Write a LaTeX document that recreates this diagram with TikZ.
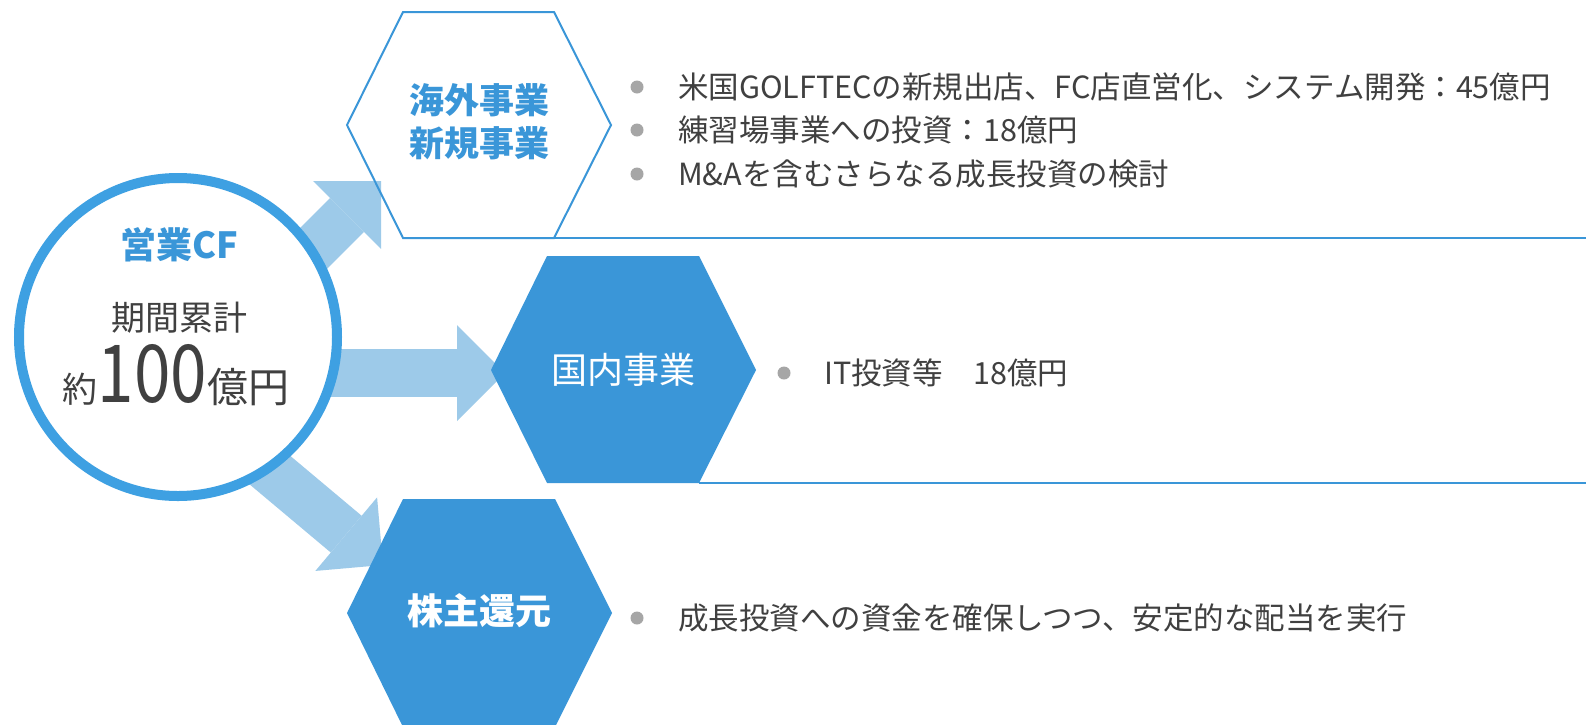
\documentclass[tikz,border=0pt]{standalone}
\usepackage{fontspec}
\usepackage{graphicx}
\setmainfont{Noto Sans CJK JP}
\usetikzlibrary{arrows.meta}
\definecolor{hexblue}{HTML}{3A96D8}
\definecolor{ringblue}{HTML}{3EA0E2}
\definecolor{arrowblue}{HTML}{9DCAE9}
\definecolor{txtgray}{HTML}{404040}
\definecolor{bulgray}{HTML}{A6A6A6}
\tikzset{
  flow/.style={draw=arrowblue, line width=48pt,
    -{Triangle[length=48pt,width=96pt,line width=0pt,fill=arrowblue]}},
  hexline/.style={draw=hexblue, line width=2pt, line join=miter},
  hexfill/.style={fill=hexblue},
  rule/.style={draw=hexblue, line width=2.5pt},
  bulletdot/.style={circle, fill=bulgray, inner sep=0pt, minimum size=13pt},
  itemtext/.style={anchor=west, text=txtgray, inner sep=0pt,
    font=\fontsize{30.5}{36}\selectfont},
  hextitle/.style={align=center, inner sep=0pt, font=\bfseries\fontsize{35}{43}\selectfont},
}
\begin{document}
\begin{tikzpicture}[x=1pt,y=-1pt]
\clip (0,0) rectangle (1586,724);
\useasboundingbox (0,0) rectangle (1586,724);
\fill[white] (0,0) rectangle (1586,724);

% arrow start / end coordinates
\coordinate (s1) at (198,364);
\coordinate (t1) at (381,181);
\coordinate (s2) at (200,373);
\coordinate (t2) at (505,373);
\coordinate (s3) at (153,372);
\coordinate (t3) at (383,565);

\draw[flow] (s1) -- (t1);
\draw[flow] (s2) -- (t2);
\draw[flow] (s3) -- (t3);

% central circle
\node[circle, draw=ringblue, line width=10pt, fill=white, minimum size=318pt, inner sep=0pt] (cf) at (178,337) {};
\node[text=hexblue, inner sep=0pt, font=\bfseries\fontsize{36}{40}\selectfont] (cft) at (179,245) {営業CF};
\node[text=txtgray, inner sep=0pt, font=\fontsize{34}{40}\selectfont] (cfs) at (179,318) {期間累計};
\node[text=txtgray, inner sep=0pt, anchor=base] (cfv) at (176,402)
  {\fontsize{35}{35}\selectfont 約\raisebox{0pt}[58pt][0pt]{\scalebox{0.82}[1]{\fontsize{80}{80}\selectfont 100}}\fontsize{41}{41}\selectfont 億円};

% hexagon 1 (outline)
\coordinate (h1l) at (347,125);
\coordinate (h1tl) at (403,12);
\coordinate (h1tr) at (554,12);
\coordinate (h1r) at (611,125);
\coordinate (h1br) at (554,238);
\coordinate (h1bl) at (403,238);
\coordinate (r1) at (1586,238);
\draw[hexline] (h1l) -- (h1tl) -- (h1tr) -- (h1r) -- (h1br) -- (h1bl) -- cycle;
\draw[rule, line width=2pt] (h1br) -- (r1);
\node[hextitle, text=hexblue] (h1) at (479,122) {海外事業\\新規事業};

% hexagon 2 (filled)
\coordinate (h2l) at (491,370);
\coordinate (h2tl) at (547,256);
\coordinate (h2tr) at (699,256);
\coordinate (h2r) at (756,370);
\coordinate (h2br) at (699,483);
\coordinate (h2bl) at (547,483);
\coordinate (r2) at (1586,483);
\fill[hexfill] (h2l) -- (h2tl) -- (h2tr) -- (h2r) -- (h2br) -- (h2bl) -- cycle;
\draw[rule] (h2br) -- (r2);
\node[text=white, inner sep=0pt, font=\fontsize{36}{40}\selectfont] (h2) at (623,370) {国内事業};

% hexagon 3 (filled)
\coordinate (h3l) at (347,613);
\coordinate (h3tl) at (403,499);
\coordinate (h3tr) at (555,499);
\coordinate (h3r) at (612,613);
\coordinate (h3br) at (555,727);
\coordinate (h3bl) at (403,727);
\fill[hexfill] (h3l) -- (h3tl) -- (h3tr) -- (h3r) -- (h3br) -- (h3bl) -- cycle;
\node[text=white, inner sep=0pt, font=\bfseries\fontsize{36}{40}\selectfont] (h3) at (479,611) {株主還元};

% bullet items
\node[bulletdot] (b1) at (637,87) {};
\node[itemtext] (i1) at (678,87) {米国GOLFTECの新規出店、FC店直営化、システム開発：45億円};
\node[bulletdot] (b2) at (637,130) {};
\node[itemtext] (i2) at (678,130) {練習場事業への投資：18億円};
\node[bulletdot] (b3) at (637,174) {};
\node[itemtext] (i3) at (678,174) {M\&Aを含むさらなる成長投資の検討};
\node[bulletdot] (b4) at (784,373) {};
\node[itemtext] (i4) at (824,373) {IT投資等　18億円};
\node[bulletdot] (b5) at (637,618) {};
\node[itemtext] (i5) at (678,618) {成長投資への資金を確保しつつ、安定的な配当を実行};
\end{tikzpicture}
\end{document}
